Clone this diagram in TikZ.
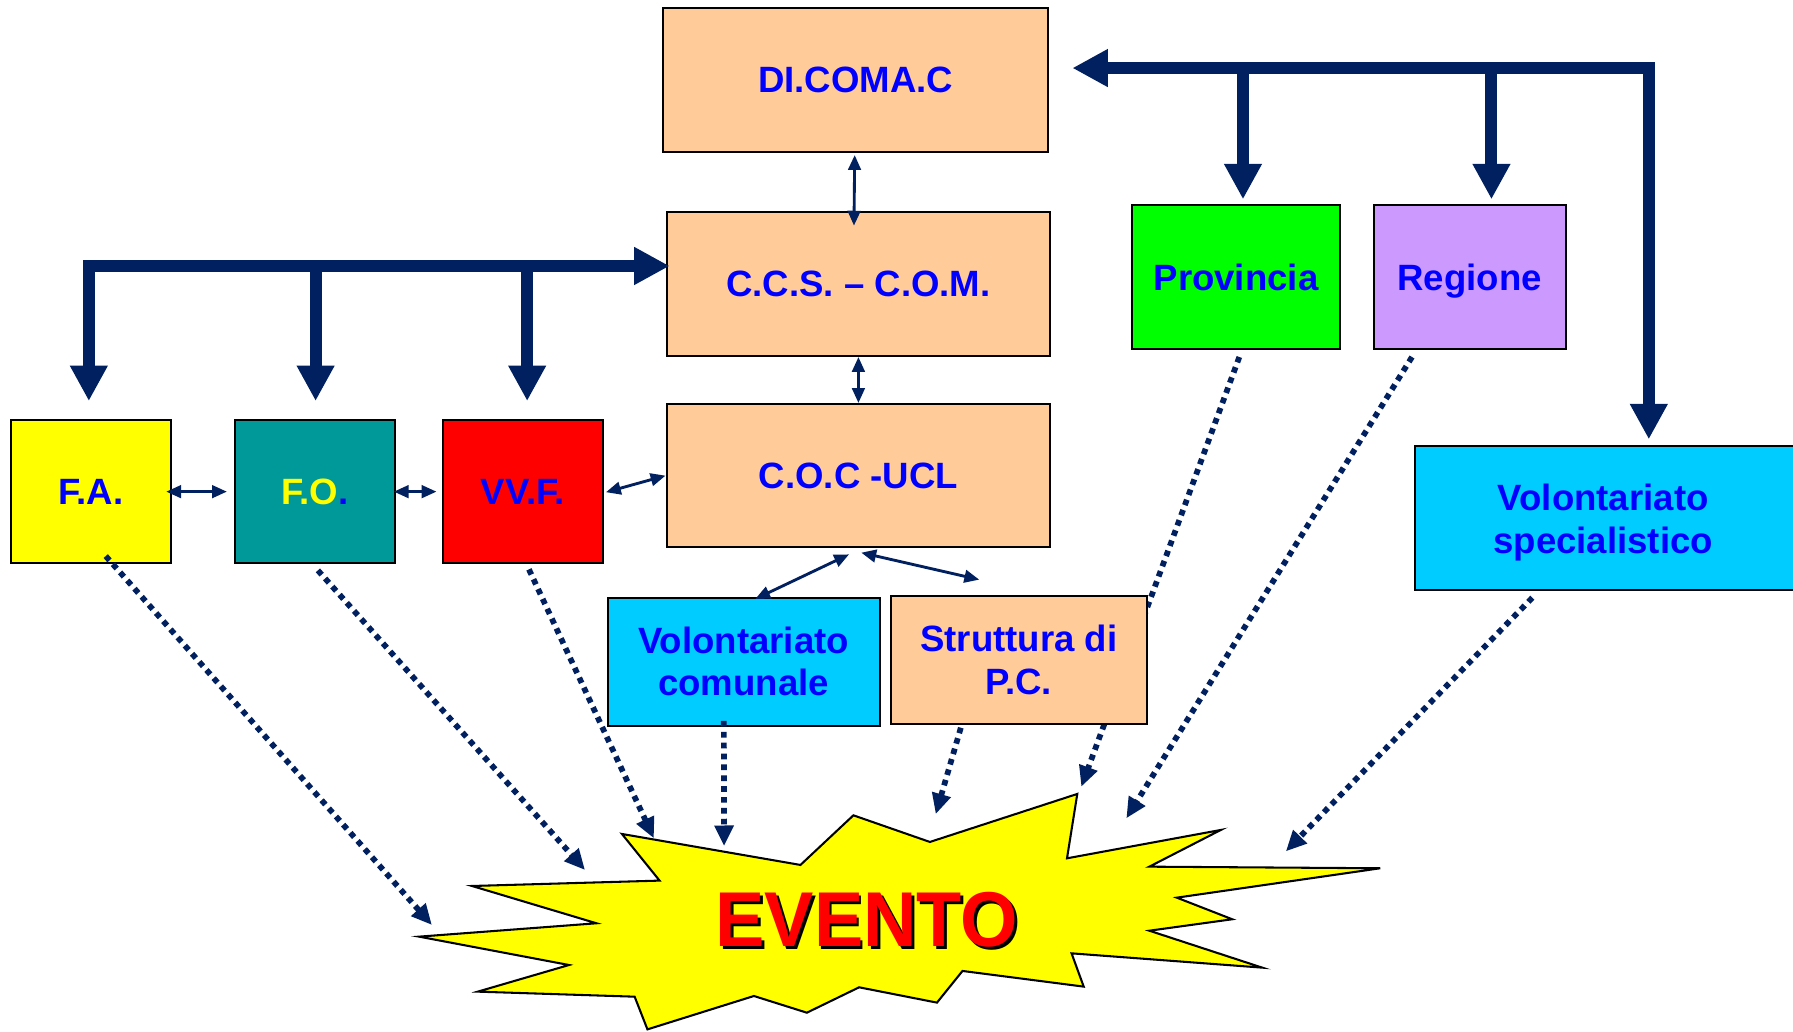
\documentclass[tikz,border=0pt]{standalone}
\usepackage{fontspec}
\setmainfont{Liberation Sans}
\usepackage{graphicx}
\usetikzlibrary{arrows.meta,calc}
\definecolor{navy}{HTML}{002060}
\definecolor{peach}{HTML}{FFCC99}
\definecolor{tealbox}{HTML}{009999}
\definecolor{lilac}{HTML}{CC99FF}
\definecolor{sky}{HTML}{00CCFF}
\definecolor{limebox}{HTML}{00FF00}
\definecolor{txtblue}{HTML}{0000FF}
\definecolor{yel}{HTML}{FFFF00}
\definecolor{redbox}{HTML}{FF0000}
\tikzset{
  BigTri/.tip={Triangle[length=31pt,width=31pt]},
  SmallTri/.tip={Triangle[length=13pt,width=11pt]},
  DotTri/.tip={Triangle[length=18pt,width=16pt]},
  box/.style={draw=black,line width=1.8pt,inner sep=0pt,
    font=\bfseries\fontsize{32}{37}\selectfont,text=txtblue,align=center},
  lbl/.style={inner sep=0pt,font=\bfseries\fontsize{32}{37}\selectfont,text=txtblue,align=center},
  bus/.style={draw=navy,line width=10.5pt,line join=miter},
  thinarrow/.style={draw=navy,line width=2.5pt,SmallTri-SmallTri},
  dotarrow/.style={draw=navy,line width=5pt,dash pattern=on 5pt off 4.5pt,-DotTri},
}
\begin{document}
\begin{tikzpicture}[x=1pt,y=-1pt]
\useasboundingbox (0,0) rectangle (1568,902);
\clip (0,0) rectangle (1568,902);
\fill[white] (0,0) rectangle (1568,902);

% starburst
\draw[fill=yel,line width=1.8pt,line join=miter]
  (366.5,819.1) -- (497.6,843.9) -- (417.8,867.2) -- (555.0,871.6) -- (566.2,900.2)
  -- (659.3,871.0) -- (705.6,885.6) -- (751.3,863.4) -- (819.4,876.8) -- (841.7,849.1)
  -- (947.7,862.8) -- (937.1,833.7) -- (1103.8,846.2) -- (1005.1,813.9) -- (1077.6,803.9)
  -- (1029.1,785.0) -- (1207.0,759.3) -- (1005.1,757.9) -- (1067.6,725.8) -- (933.1,750.6)
  -- (942.1,694.3) -- (813.2,736.3) -- (746.3,713.0) -- (700.0,756.4) -- (543.9,729.3)
  -- (576.8,770.1) -- (412.8,774.8) -- (521.6,807.4) -- cycle;
\node[inner sep=0pt,text=black,font=\bfseries\fontsize{68}{80}\selectfont] (eventoshadow) at (760.5,807) {\scalebox{0.95}[1]{EVENTO}};
\node[inner sep=0pt,text=redbox,font=\bfseries\fontsize{68}{80}\selectfont] (evento) at (758,804.5) {\scalebox{0.95}[1]{EVENTO}};

% boxes
\node[box,fill=peach,minimum width=336.3pt,minimum height=125.9pt] (di) at (748.35,70.25) {DI.COMA.C};
\node[box,fill=peach,minimum width=335.6pt,minimum height=126.2pt] (ccs) at (750.7,248.2) {C.C.S. – C.O.M.};
\node[box,fill=peach,minimum width=335.6pt,minimum height=125.3pt] (coc) at (750.7,415.95) {C.O.C -UCL};
\node[box,fill=limebox,minimum width=182pt,minimum height=125.9pt] (prov) at (1080.9,242.25) {Provincia};
\node[draw=black,line width=1.8pt,fill=lilac,inner sep=0pt,minimum width=167.8pt,minimum height=125.9pt] (reg) at (1285.3,242.25) {};
\node[lbl] (regtxt) at (1285.3,245.5) {Regione};

% Provincia dotted arrow passes behind the Struttura box
\coordinate (provEnd) at (945.6,688);
\draw[dotarrow] ($(prov.south)+(2.9,6.1)$) -- (provEnd);

\node[box,fill=yel,minimum width=140.1pt,minimum height=125.3pt] (fa) at (79.45,429.95) {F.A.};
\node[box,fill=tealbox,text=yel,minimum width=140.2pt,minimum height=125.3pt] (fo) at (275.4,429.95) {F.O\textcolor{txtblue}{.}};
\node[box,fill=redbox,minimum width=140.1pt,minimum height=125.3pt] (vvf) at (457.35,429.95) {VV.F.};
\node[box,fill=sky,minimum width=237.8pt,minimum height=111.9pt] (volcom) at (650.3,578.65) {Volontariato\\comunale};
\node[box,fill=peach,minimum width=223.9pt,minimum height=111.7pt] (strutt) at (890.95,577.05) {Struttura di\\P.C.};
\node[draw=black,line width=1.8pt,fill=sky,inner sep=0pt,minimum width=362.5pt,minimum height=126.2pt] (volspec) at (1418.75,452.9) {};
\node[lbl] (volspectxt) at (1402,457) {Volontariato\\specialistico};

% thick bus arrows (left)
\coordinate (faTip) at (77.7,350.7);
\coordinate (ccsIn) at (585.6,232.6);
\coordinate (foBus) at (276,232.6);
\coordinate (foTip) at (276,350.7);
\coordinate (vvfBus) at (461,232.6);
\coordinate (vvfTip) at (461,350.7);
\draw[bus,BigTri-BigTri] (faTip) |- (ccsIn);
\draw[bus,-BigTri] (foBus) -- (foTip);
\draw[bus,-BigTri] (vvfBus) -- (vvfTip);

% thick bus arrows (right)
\coordinate (vsTip) at (1441.9,384.2);
\coordinate (diIn) at (937.8,59.5);
\coordinate (provBus) at (1087,59.5);
\coordinate (provTip) at (1087,174.3);
\coordinate (regBus) at (1304.3,59.5);
\coordinate (regTip) at (1304.3,174.3);
\draw[bus,BigTri-BigTri] (vsTip) |- (diIn);
\draw[bus,-BigTri] (provBus) -- (provTip);
\draw[bus,-BigTri] (regBus) -- (regTip);

% thin double arrows
\draw[thinarrow] ($(di.south)+(-0.9,1.5)$) -- ($(ccs.north)+(-3.9,13.1)$);
\draw[thinarrow] (ccs.south) -- (coc.north);
\draw[thinarrow] ($(fa.east)+(-5,0)$) -- ($(fo.west)+(-6,0)$);
\draw[thinarrow] ($(fo.east)+(-2,0)$) -- ($(vvf.west)+(-4.7,0)$);
\draw[thinarrow] ($(vvf.east)+(1.6,0.5)$) -- (coc.west);
\draw[thinarrow] ($(coc.south)+(-8.2,5.3)$) -- ($(volcom.north)+(10.2,2)$);
\draw[thinarrow] ($(coc.south)+(2.5,3.8)$) -- ($(strutt.north)+(-34.6,-13.4)$);

% dotted arrows to EVENTO
\coordinate (faEnd) at (377.7,808.9);
\coordinate (foEnd) at (511.6,760.8);
\coordinate (vvfEnd) at (571.8,733.1);
\coordinate (volcomEnd) at (633.2,739.9);
\coordinate (struttEnd) at (818.3,712);
\coordinate (regEnd) at (985,715.6);
\coordinate (volspecEnd) at (1124.5,744.5);
\draw[dotarrow] ($(fa.south)+(13,-7.2)$) -- (faEnd);
\draw[dotarrow] ($(fo.south)+(2.6,5.3)$) -- (foEnd);
\draw[dotarrow] ($(vvf.south)+(5.2,4.4)$) -- (vvfEnd);
\draw[dotarrow] ($(volcom.south)+(-17.3,-5)$) -- (volcomEnd);
\draw[dotarrow] ($(strutt.south)+(-50.7,2.6)$) -- (struttEnd);
\draw[dotarrow] ($(reg.south)+(-50.5,6.1)$) -- (regEnd);
\draw[dotarrow] ($(volspec.south west)+(103.4,5.8)$) -- (volspecEnd);
\end{tikzpicture}
\end{document}
